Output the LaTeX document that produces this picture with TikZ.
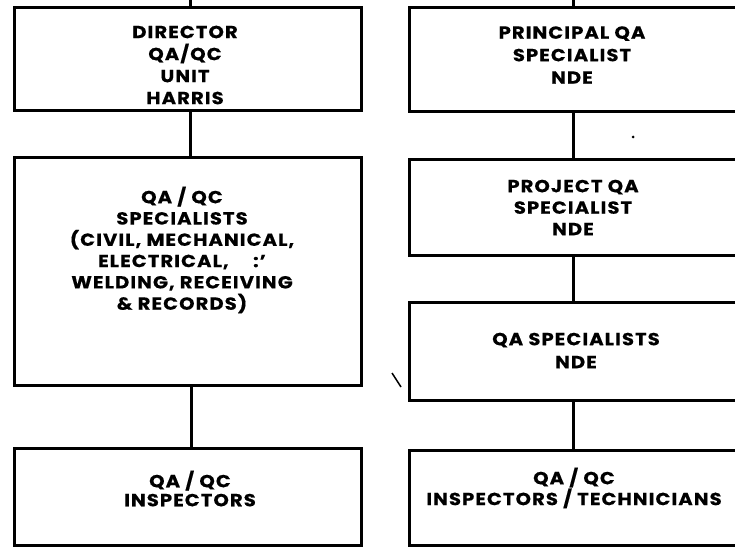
\documentclass[tikz,border=0pt]{standalone}
\usepackage{fontspec}
\setmainfont{Poppins}[BoldFont=* Bold, BoldFeatures={FakeBold=0.4}, FakeStretch=1.12, LetterSpace=6]
\begin{document}
\begin{tikzpicture}[x=1pt,y=-1pt,
  box/.style={draw, line width=3pt, rectangle, inner sep=0pt, outer sep=0pt},
  link/.style={line width=3pt},
  lbl/.style={align=center, inner sep=0pt, font=\bfseries\fontsize{17.5}{#1}\selectfont},
  lbl/.default=21.5]
\useasboundingbox (0,0) rectangle (735,548);
\clip (0,0) rectangle (735,548);
% left column
\node[box, minimum width=347pt, minimum height=103pt] (L1) at (187.5,59.5) {};
\node[box, minimum width=347pt, minimum height=227pt] (L2) at (187.5,271.5) {};
\node[box, minimum width=347pt, minimum height=97pt] (L3) at (187.5,496.5) {};
\coordinate (Ltop) at (190,0);
% right column
\node[box, minimum width=351pt, minimum height=104pt] (R1) at (584.5,60) {};
\node[box, minimum width=351pt, minimum height=95pt] (R2) at (584.5,207.5) {};
\node[box, minimum width=351pt, minimum height=98pt] (R3) at (584.5,351) {};
\node[box, minimum width=351pt, minimum height=95pt] (R4) at (584.5,497.5) {};
\coordinate (Rtop) at (573,0);
% texts
\node[lbl=22] (tL1) at (185,65) {DIRECTOR\\QA/QC\\UNIT\\HARRIS};
\node[lbl=21.3] (tL2) at (182,250) {QA / QC\\SPECIALISTS\\(CIVIL, MECHANICAL,\\ELECTRICAL,\hspace{1.4em}:'\hspace{1.2em}\\WELDING, RECEIVING\\\& RECORDS)};
\node[lbl=19] (tL3) at (190,488.5) {QA / QC\\INSPECTORS};
\node[lbl=22.5] (tR1) at (572,55) {PRINCIPAL QA\\SPECIALIST\\NDE};
\node[lbl=21.5] (tR2) at (573,207.5) {PROJECT QA\\SPECIALIST\\NDE};
\node[lbl=23] (tR3) at (576,350.5) {QA SPECIALISTS\\NDE};
\node[lbl=18.5] (tR4) at (574,488) {QA / QC\\INSPECTORS / TECHNICIANS};
% connectors
\draw[link] (Ltop) -- (Ltop |- L1.north);
\draw[link] ([xshift=2.5pt]L1.south) -- ([xshift=2.5pt]L2.north);
\draw[link] ([xshift=4pt]L2.south) -- ([xshift=4pt]L3.north);
\draw[link] (Rtop) -- (Rtop |- R1.north);
\draw[link] (Rtop |- R1.south) -- (Rtop |- R2.north);
\draw[link] (Rtop |- R2.south) -- (Rtop |- R3.north);
\draw[link] (Rtop |- R3.south) -- (Rtop |- R4.north);
% stray marks of the scan
\fill (633,137) circle (1.5pt);
\draw[line width=1.5pt] (392,373) -- (401,387);
\end{tikzpicture}
\end{document}
